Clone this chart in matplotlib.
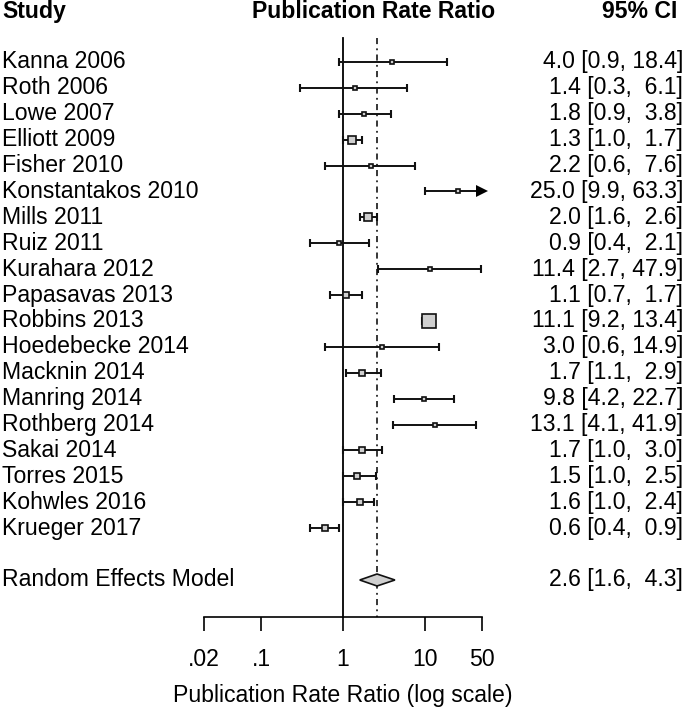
import matplotlib
matplotlib.use("Agg")
import matplotlib.pyplot as plt
import numpy as np
from matplotlib.patches import Polygon

plt.rcParams['font.family'] = ['Liberation Sans', 'DejaVu Sans']

# ---------------- data ----------------
studies = ["Kanna 2006", "Roth 2006", "Lowe 2007", "Elliott 2009", "Fisher 2010",
           "Konstantakos 2010", "Mills 2011", "Ruiz 2011", "Kurahara 2012",
           "Papasavas 2013", "Robbins 2013", "Hoedebecke 2014", "Macknin 2014",
           "Manring 2014", "Rothberg 2014", "Sakai 2014", "Torres 2015",
           "Kohwles 2016", "Krueger 2017"]
est = [4.0, 1.4, 1.8, 1.3, 2.2, 25.0, 2.0, 0.9, 11.4, 1.1, 11.1, 3.0, 1.7,
       9.8, 13.1, 1.7, 1.5, 1.6, 0.6]
lo = [0.9, 0.3, 0.9, 1.0, 0.6, 9.9, 1.6, 0.4, 2.7, 0.7, 9.2, 0.6, 1.1,
      4.2, 4.1, 1.0, 1.0, 1.0, 0.4]
hi = [18.4, 6.1, 3.8, 1.7, 7.6, 63.3, 2.6, 2.1, 47.9, 1.7, 13.4, 14.9, 2.9,
      22.7, 41.9, 3.0, 2.5, 2.4, 0.9]
# relative study weights (square side)
weights = [5.5, 6.0, 6.5, 10.0, 6.0, 6.0, 10.0, 6.0, 5.5, 7.0, 16.0, 5.5, 7.5,
           6.0, 6.0, 7.0, 7.0, 7.5, 8.5]
re_label = "Random Effects Model"
re_est, re_lo, re_hi = 2.6, 1.6, 4.3
tick_vals = [0.02, 0.1, 1, 10, 50]
tick_labels = [".02", ".1", "1", "10", "50"]
xlab = "Publication Rate Ratio (log scale)"
headers = ["Study", "Publication Rate Ratio", "95% CI"]

# ---------------- layout ----------------
W, H, DPI = 685, 715, 100
px_dec = 82.0        # pixels per decade
x0px = 343.0         # pixel of x=1
row0px, rowpx = 62.0, 25.9
FS = 16.6

fig = plt.figure(figsize=(W / DPI, H / DPI), dpi=DPI)
ax = fig.add_axes([0, 0, 1, 1])
ax.set_xscale('log')
ax.set_xlim(10 ** (-x0px / px_dec), 10 ** ((W - x0px) / px_dec))
ax.set_ylim((H - row0px) / rowpx, -row0px / rowpx)

n = len(studies)
re_row = n + 1
axis_row = (617.3 - row0px) / rowpx
top_row = (38 - row0px) / rowpx
amin, amax = tick_vals[0], tick_vals[-1]

for s in ['top', 'left', 'right']:
    ax.spines[s].set_visible(False)
ax.spines['bottom'].set_position(('data', axis_row))
ax.spines['bottom'].set_bounds(amin, amax)
ax.spines['bottom'].set_linewidth(1.2)
ax.set_yticks([])
ax.set_xticks(tick_vals)
ax.set_xticklabels(tick_labels)
ax.xaxis.set_minor_locator(matplotlib.ticker.NullLocator())
ax.tick_params(axis='x', direction='out', length=9.8, width=1.2, pad=12.5,
               labelsize=FS)

# reference lines
ax.plot([1, 1], [top_row, axis_row], color='black', lw=1.3, zorder=1)
ax.plot([re_est, re_est], [top_row, axis_row], color='black', lw=1.1,
        linestyle=(0, (4.0, 2.8, 1.2, 2.8)), zorder=1)

# studies
for i in range(n):
    l, h = lo[i], hi[i]
    lc, hc = max(l, amin), min(h, amax)
    ax.plot([lc, hc], [i, i], color='#111111', lw=1.4, zorder=2,
            solid_capstyle='butt')
    if l >= amin:
        ax.plot([l], [i], marker='|', ms=5.2, mew=1.5, color='#111111', zorder=2)
    if h <= amax:
        ax.plot([h], [i], marker='|', ms=5.2, mew=1.5, color='#111111', zorder=2)
    else:
        ax.plot([amax], [i], marker='>', ms=8.0, color='black', mew=0,
                zorder=3)
    ms = max(weights[i] - 1.6, 1.5) / (DPI / 72)
    ax.plot([est[i]], [i], marker='s', ms=ms, mfc='#cfcfcf', mec='#111111',
            mew=1.2, zorder=4)
    ax.text(2 / W, i, studies[i], transform=ax.get_yaxis_transform(),
            ha='left', va='center', fontsize=FS)
    ax.text(683 / W, i, f"{est[i]:.1f} [{l:.1f}, {h:>4.1f}]",
            transform=ax.get_yaxis_transform(), ha='right', va='center',
            fontsize=FS)

# summary diamond
dh = 6.0 / rowpx
ax.add_patch(Polygon([(re_lo, re_row), (re_est, re_row - dh), (re_hi, re_row),
                      (re_est, re_row + dh)], closed=True, facecolor='#cfcfcf',
                     edgecolor='#111111', lw=1.2, zorder=4))
ax.text(2 / W, re_row, re_label, transform=ax.get_yaxis_transform(),
        ha='left', va='center', fontsize=FS)
ax.text(683 / W, re_row, f"{re_est:.1f} [{re_lo:.1f}, {re_hi:>4.1f}]",
        transform=ax.get_yaxis_transform(), ha='right', va='center', fontsize=FS)

# headers
hrow = (12 - row0px) / rowpx
ax.text(2 / W, hrow, headers[0], transform=ax.get_yaxis_transform(),
        ha='left', va='center', fontsize=FS, fontweight='bold')
ax.text(373.5 / W, hrow, headers[1], transform=ax.get_yaxis_transform(),
        ha='center', va='center', fontsize=FS, fontweight='bold')
ax.text(677 / W, hrow, headers[2], transform=ax.get_yaxis_transform(),
        ha='right', va='center', fontsize=FS, fontweight='bold')

# x label
ax.text(1, (696 - row0px) / rowpx, xlab, ha='center', va='center', fontsize=FS)

fig.savefig("out.png", dpi=DPI)
